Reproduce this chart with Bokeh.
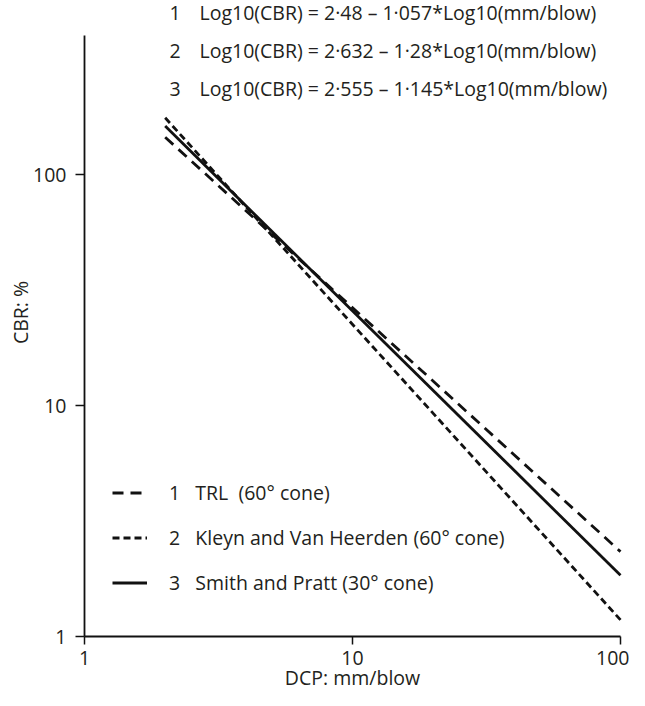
import math
from bokeh.plotting import figure
from bokeh.models import Range1d, FixedTicker, Label, Legend, LegendItem
from bokeh.embed import file_html
from bokeh.resources import INLINE

# --- data ---
dcp = [2, 100]                      # mm/blow, start and end of each line
cbr_trl = [145, 2.33]               # line 1  TRL (60° cone)
cbr_kvh = [176, 1.18]               # line 2  Kleyn and Van Heerden (60° cone)
cbr_sp = [162, 1.84]                # line 3  Smith and Pratt (30° cone)
x_ticks = [1, 10, 100]
y_ticks = [1, 10, 100]
x_axis_extent = (1, 100)
y_axis_extent = (1, 400)
equation_numbers = ["1", "2", "3"]
equations = [
    "Log10(CBR) = 2·48 – 1·057*Log10(mm/blow)",
    "Log10(CBR) = 2·632 – 1·28*Log10(mm/blow)",
    "Log10(CBR) = 2·555 – 1·145*Log10(mm/blow)",
]
legend_names = [
    "1\u00a0\u00a0\u00a0TRL\u00a0\u00a0(60° cone)",
    "2\u00a0\u00a0\u00a0Kleyn and Van Heerden (60° cone)",
    "3\u00a0\u00a0\u00a0Smith and Pratt (30° cone)",
]
x_title = "DCP: mm/blow"
y_title = "CBR: %"

FONT = "Open Sans"
TXT = "#231f20"
FS = "19.5px"
INK = "#111111"

W, H = 629, 690
# geometry of the plot area (pixels inside the figure)
X0_PX, X_DEC = 84, 268      # x=1 position and pixels per decade
Y0_PX, Y_DEC = 636, 231     # y=1 position (from top) and pixels per decade

x_range = Range1d(10 ** (-X0_PX / X_DEC), 10 ** ((W - X0_PX) / X_DEC))
y_range = Range1d(10 ** (-(H - Y0_PX) / Y_DEC), 10 ** (Y0_PX / Y_DEC))

p = figure(width=W, height=H, x_axis_type="log", y_axis_type="log",
           x_range=x_range, y_range=y_range,
           output_backend="svg", toolbar_location=None, min_border=0)
p.outline_line_color = None
p.grid.visible = False
p.background_fill_color = "white"
p.border_fill_color = "white"

for ax, ticks, ext in ((p.xaxis[0], x_ticks, x_axis_extent), (p.yaxis[0], y_ticks, y_axis_extent)):
    ax.ticker = FixedTicker(ticks=ticks)
    ax.major_label_overrides = {t: str(t) for t in ticks}
    ax.minor_tick_line_color = None
    ax.major_tick_in = 0
    ax.axis_line_width = 1.8
    ax.major_tick_line_width = 1.5
    ax.axis_line_color = INK
    ax.major_tick_line_color = INK
    ax.major_label_text_font = FONT
    ax.major_label_text_font_size = FS
    ax.major_label_text_color = TXT
    ax.bounds = ext
    ax.fixed_location = 1

p.xaxis.major_tick_out = 8
p.yaxis.major_tick_out = 9
p.xaxis.major_label_standoff = 6
p.yaxis.major_label_standoff = 9

r1 = p.line(dcp, cbr_trl, line_color=INK, line_width=2.8, line_dash="11 7")
r2 = p.line(dcp, cbr_kvh, line_color=INK, line_width=2.8, line_dash="7 4")
r3 = p.line(dcp, cbr_sp, line_color=INK, line_width=2.8)

legend = Legend(items=[LegendItem(label=n, renderers=[r]) for n, r in zip(legend_names, [r1, r2, r3])],
                location=(112, 94), padding=0, margin=0, spacing=18,
                glyph_width=35, glyph_height=25, label_height=25, label_standoff=22,
                border_line_color=None, background_fill_alpha=0,
                label_text_font=FONT, label_text_font_size=FS, label_text_color=TXT)
p.add_layout(legend)

row_y = [678, 640, 602]
for num, eq, yy in zip(equation_numbers, equations, row_y):
    p.add_layout(Label(x=169, y=yy, x_units="screen", y_units="screen", text=num,
                       text_font=FONT, text_font_size=FS, text_color=TXT, text_baseline="middle"))
    p.add_layout(Label(x=199, y=yy, x_units="screen", y_units="screen", text=eq,
                       text_font=FONT, text_font_size=FS, text_color=TXT, text_baseline="middle"))

p.add_layout(Label(x=352, y=0, x_units="screen", y_units="screen", text=x_title,
                   text_font=FONT, text_font_size=FS, text_color=TXT,
                   text_align="center", text_baseline="bottom"))
p.add_layout(Label(x=20, y=378, x_units="screen", y_units="screen", text=y_title,
                   angle=math.pi / 2, text_font=FONT, text_font_size=FS, text_color=TXT,
                   text_align="center", text_baseline="middle"))

open("out.html", "w").write(file_html(p, INLINE))
